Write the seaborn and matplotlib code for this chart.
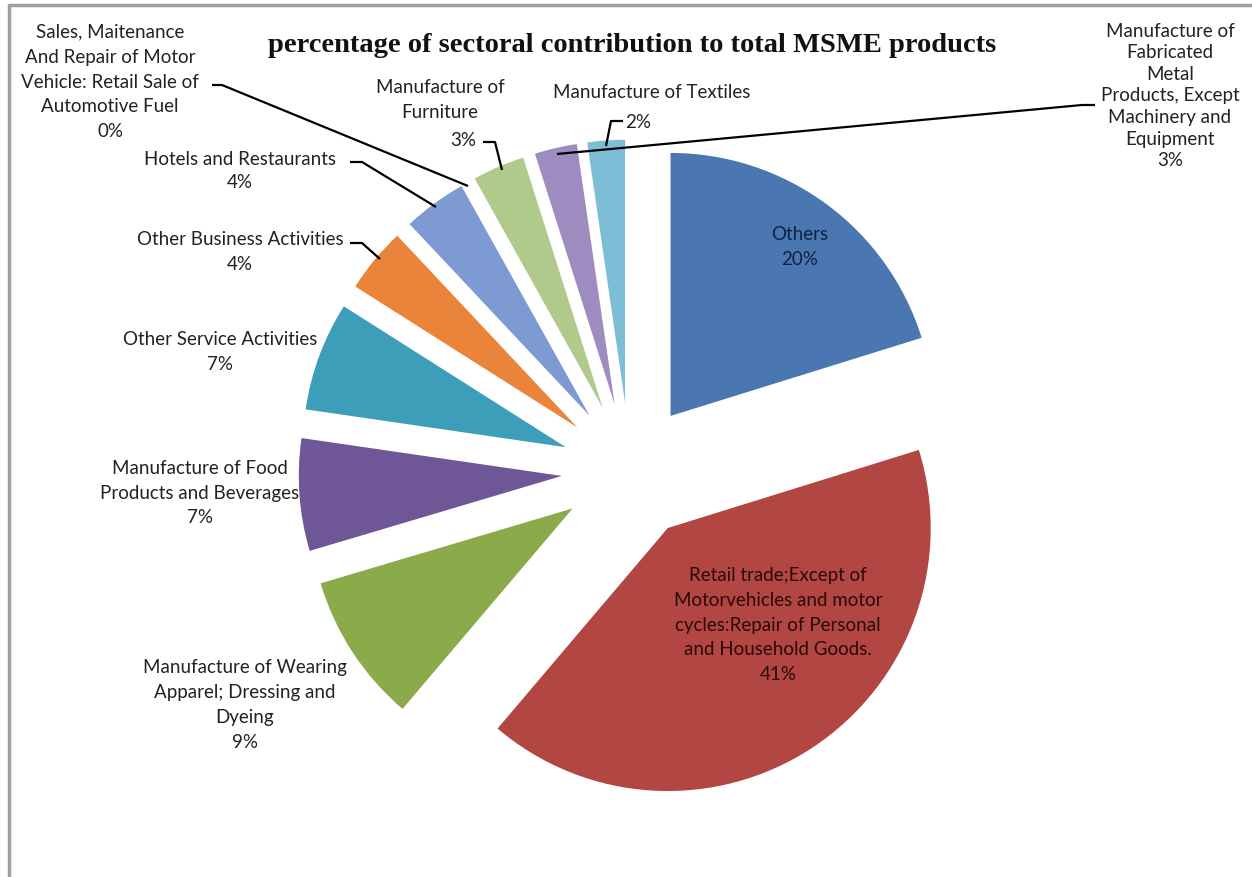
import matplotlib
matplotlib.use("Agg")
import matplotlib.pyplot as plt
import seaborn as sns
from matplotlib.lines import Line2D

sns.set_theme(style="white")
plt.rcParams['font.family'] = ['Lato', 'DejaVu Sans']

sectors = [
    "Others",
    "Retail trade;Except of\nMotorvehicles and motor\ncycles:Repair of Personal\nand Household Goods.",
    "Manufacture of Wearing\nApparel; Dressing and\nDyeing",
    "Manufacture of Food\nProducts and Beverages",
    "Other Service Activities",
    "Other Business Activities",
    "Hotels and Restaurants",
    "Sales, Maitenance\nAnd Repair of Motor\nVehicle: Retail Sale of\nAutomotive Fuel",
    "Manufacture of\nFurniture",
    "Manufacture of\nFabricated\nMetal\nProducts, Except\nMachinery and\nEquipment",
    "Manufacture of Textiles",
]
shares = [20.2, 41.0, 9.2, 6.9, 6.7, 4.0, 3.9, 0.0, 3.2, 2.6, 2.3]
pct_labels = ["20%", "41%", "9%", "7%", "7%", "4%", "4%", "0%", "3%", "3%", "2%"]
colors = ["#4A77B1", "#B24642", "#8BAB4B", "#6F5797", "#3D9EB9", "#E9843A",
          "#7E9AD3", "#C98683", "#AFCA8B", "#9E8CC0", "#7DBED7"]

W, H = 1252, 877
fig = plt.figure(figsize=(W / 100, H / 100), dpi=100)
ax = fig.add_axes([0, 0, 1, 1])

def Y(y):
    return H - y

cx, cy, R = 630, 471, 263
explode_frac = 0.26
wedges, _ = ax.pie(shares, explode=[explode_frac * R] * len(shares), startangle=90,
                   counterclock=False, colors=colors, center=(cx, Y(cy)), radius=R,
                   wedgeprops=dict(linewidth=0), frame=True)
ax.set_xlim(0, W)
ax.set_ylim(0, H)
ax.set_aspect('auto')
ax.axis('off')

# frame
fig.add_artist(Line2D([9 / W, 9 / W], [0, 1 - 5 / H], color="#a0a0a0", lw=2.5))
fig.add_artist(Line2D([9 / W, 1], [1 - 5 / H, 1 - 5 / H], color="#a0a0a0", lw=2.5))

ax.text(632, Y(45), "percentage of sectoral contribution to total MSME products",
        ha="center", va="center", fontsize=20.5, fontweight="bold",
        family="Liberation Serif", color="#111111")

fs = 13.5
def lab(x, y, txt, color="#222222", lsp=1.56):
    ax.text(x, Y(y), txt, ha="center", va="center", fontsize=fs, color=color,
            linespacing=lsp)

lab(800, 247, sectors[0] + "\n" + pct_labels[0], color="#10213f")
lab(778, 625, sectors[1] + "\n" + pct_labels[1], color="#2a0a08")
lab(245, 705, sectors[2] + "\n" + pct_labels[2])
lab(200, 493, sectors[3] + "\n" + pct_labels[3])
lab(220, 352, sectors[4] + "\n" + pct_labels[4])
lab(240, 252, sectors[5] + "\n" + pct_labels[5])
lab(240, 171, sectors[6] + "\n" + pct_labels[6], lsp=1.45)
lab(110, 82, sectors[7] + "\n" + pct_labels[7])
lab(440, 100, sectors[8])
lab(463, 140, pct_labels[8])
lab(1170, 96, sectors[9] + "\n" + pct_labels[9], lsp=1.33)
lab(652, 93, sectors[10])
lab(638, 122, pct_labels[10])

def leader(xs, ys):
    ax.plot(xs, [Y(v) for v in ys], color="black", lw=1.6, solid_capstyle="butt")

leader([212, 222, 468], [85, 85, 186])
leader([350, 362, 436], [162, 162, 207])
leader([350, 362, 380], [243, 243, 259])
leader([483, 495, 502], [142, 142, 170])
leader([623, 611, 606], [121, 121, 146])
leader([557, 1082, 1095], [154, 105, 105])

fig.savefig("out.png", dpi=100, facecolor="white")
